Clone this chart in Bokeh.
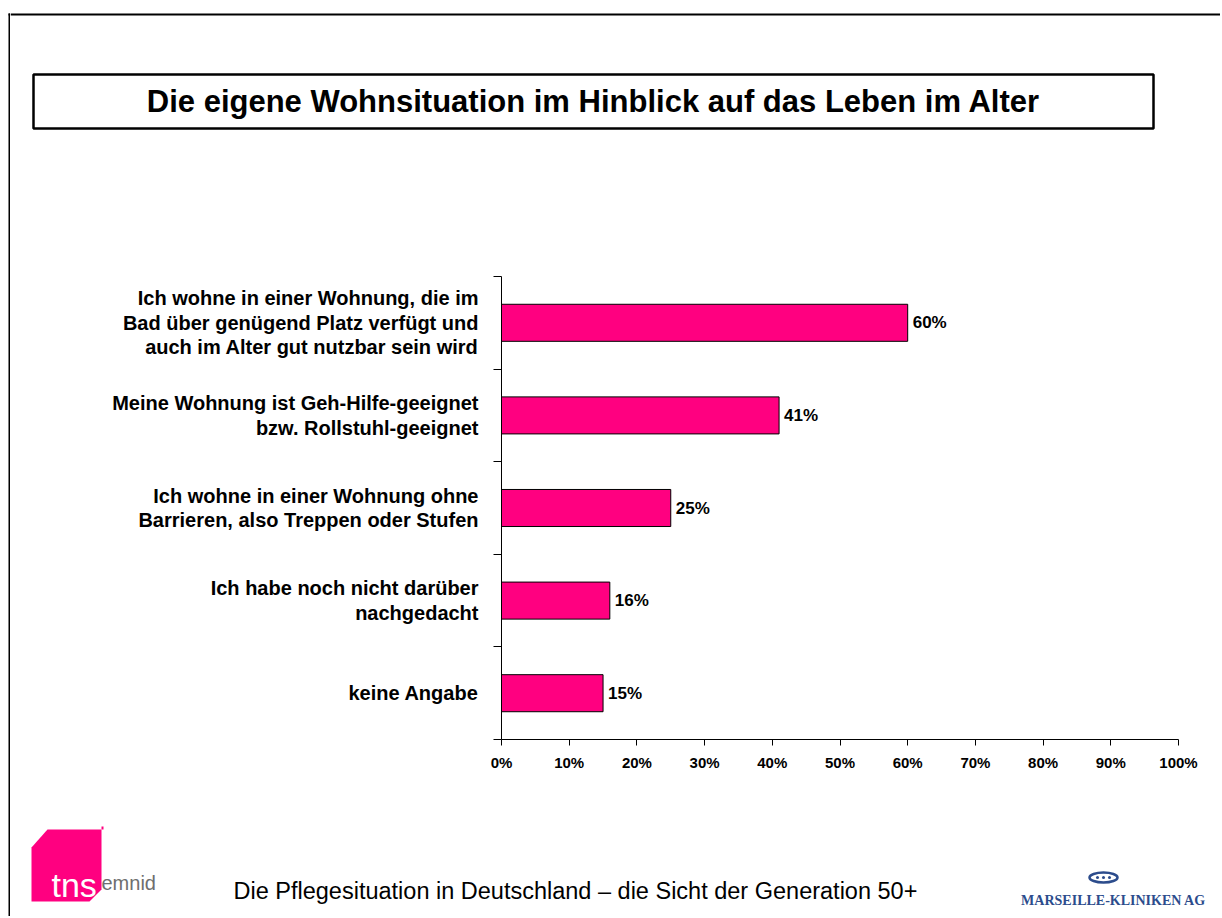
from bokeh.plotting import figure
from bokeh.layouts import column, row
from bokeh.models import Range1d, FixedTicker, PrintfTickFormatter
from bokeh.embed import file_html
from bokeh.resources import INLINE
from bokeh.core.properties import value

# ---- data ----
categories = [
    "Ich wohne in einer Wohnung, die im\nBad über genügend Platz verfügt und\nauch im Alter gut nutzbar sein wird",
    "Meine Wohnung ist Geh-Hilfe-geeignet\nbzw. Rollstuhl-geeignet",
    "Ich wohne in einer Wohnung ohne\nBarrieren, also Treppen oder Stufen",
    "Ich habe noch nicht darüber\nnachgedacht",
    "keine Angabe",
]
values = [60, 41, 25, 16, 15]
x_ticks = [0, 10, 20, 30, 40, 50, 60, 70, 80, 90, 100]
title_text = "Die eigene Wohnsituation im Hinblick auf das Leben im Alter"
footer_text = "Die Pflegesituation in Deutschland – die Sicht der Generation 50+"

n = len(categories)
ypos = [n - i - 0.5 for i in range(n)]
bounds = list(range(n + 1))
value_labels = [f"{v}%" for v in values]

PINK = "#FF0080"
BLUE = "#2C4C8C"
FONT = "Liberation Sans"
W = 1220
H = 916
SX = 10  # width of the left strip that carries the slide's left border line


def blank(width, height, x0, x1, y0, y1):
    f = figure(width=width, height=height, output_backend="svg", toolbar_location=None,
               x_range=Range1d(x0, x1), y_range=Range1d(y1, y0),
               x_axis_location=None, y_axis_location=None, min_border=0, title=None)
    f.outline_line_color = None
    f.xgrid.visible = False
    f.ygrid.visible = False
    f.background_fill_color = "white"
    f.border_fill_color = "white"
    return f


# ---- left strip (slide border) ----
strip = blank(SX, H, 0, SX, 0, H)
strip.line(x=[9, 9], y=[13, H], line_color="black", line_width=2)
strip.line(x=[8, SX], y=[14, 14], line_color="black", line_width=2)

# ---- header ----
head = blank(W - SX, 266, SX, W, 0, 266)
head.line(x=[SX, W], y=[14, 14], line_color="black", line_width=2)
head.quad(left=[33], right=[1153], top=[74], bottom=[128], fill_color=None,
          line_color="black", line_width=2.5)
head.text(x=[593], y=[101], text=[title_text], text_align="center", text_baseline="middle",
          text_font=value(FONT), text_font_style="bold", text_font_size="31px",
          text_color="black")

# ---- main chart ----
p = figure(width=W - SX, height=534, output_backend="svg", toolbar_location=None,
           x_range=Range1d(0, 100), y_range=Range1d(0, n), title=None,
           min_border_left=501 - SX, min_border_right=W - 1178,
           min_border_top=10, min_border_bottom=61)
p.outline_line_color = None
p.xgrid.grid_line_color = None
p.ygrid.grid_line_color = None
p.background_fill_color = "white"
p.border_fill_color = "white"

p.hbar(y=ypos, right=values, left=0, height=0.4, fill_color=PINK,
       line_color="black", line_width=1)
p.text(x=values, y=ypos, text=value_labels, x_offset=5, text_align="left",
       text_baseline="middle", text_font=value(FONT), text_font_style="bold",
       text_font_size="17px", text_color="black")

yax = p.yaxis[0]
yax.ticker = FixedTicker(ticks=ypos, minor_ticks=bounds)
yax.major_label_overrides = {y: c for y, c in zip(ypos, categories)}
yax.major_tick_out = 0
yax.major_tick_in = 0
yax.minor_tick_out = 8
yax.minor_tick_in = 0
yax.major_label_standoff = 15
yax.major_label_text_font = FONT
yax.major_label_text_font_style = "bold"
yax.major_label_text_font_size = "20px"
yax.major_label_text_line_height = 1.11
yax.major_label_text_color = "black"
yax.axis_line_color = "black"
yax.minor_tick_line_color = "black"

xax = p.xaxis[0]
xax.ticker = FixedTicker(ticks=x_ticks)
xax.formatter = PrintfTickFormatter(format="%d%%")
xax.major_tick_out = 6
xax.major_tick_in = 0
xax.minor_tick_line_color = None
xax.major_label_standoff = 8
xax.major_label_text_font = FONT
xax.major_label_text_font_style = "bold"
xax.major_label_text_font_size = "15px"
xax.major_label_text_color = "black"
xax.axis_line_color = "black"
xax.major_tick_line_color = "black"

# ---- footer ----
foot = blank(W - SX, H - 800, SX, W, 800, H)
# tns emnid logo
foot.patch(x=[31, 47, 101, 101, 89, 31], y=[847, 829, 829, 889, 901, 901],
           fill_color=PINK, line_color=None)
foot.quad(left=[101], right=[103], top=[826], bottom=[829], fill_color=PINK, line_color=None)
foot.text(x=[51], y=[884], text=["tns"], text_align="left", text_baseline="alphabetic",
          text_font=value(FONT), text_font_size="34px", text_color="white")
foot.text(x=[101], y=[882], text=["emnid"], text_align="left", text_baseline="alphabetic",
          text_font=value(FONT), text_font_size="20px", text_color="#6e6e6e")
# footer caption
foot.text(x=[233], y=[890], text=[footer_text], text_align="left", text_baseline="alphabetic",
          text_font=value(FONT), text_font_size="23.5px", text_color="black")
# Marseille-Kliniken logo
foot.ellipse(x=[1103], y=[877], width=28, height=10, fill_color="white",
             line_color=BLUE, line_width=2.5)
foot.scatter(x=[1097, 1103, 1109], y=[877, 877, 877], size=3, marker="circle",
             fill_color=BLUE, line_color=None)
foot.text(x=[1113], y=[900], text=["MARSEILLE-KLINIKEN AG"], text_align="center",
          text_baseline="alphabetic", text_font=value("Liberation Serif"),
          text_font_style="bold", text_font_size="14px", text_color=BLUE)

layout = row(strip, column(head, row(p, spacing=0), foot, spacing=0), spacing=0)

open("out.html", "w").write(file_html(layout, INLINE))
